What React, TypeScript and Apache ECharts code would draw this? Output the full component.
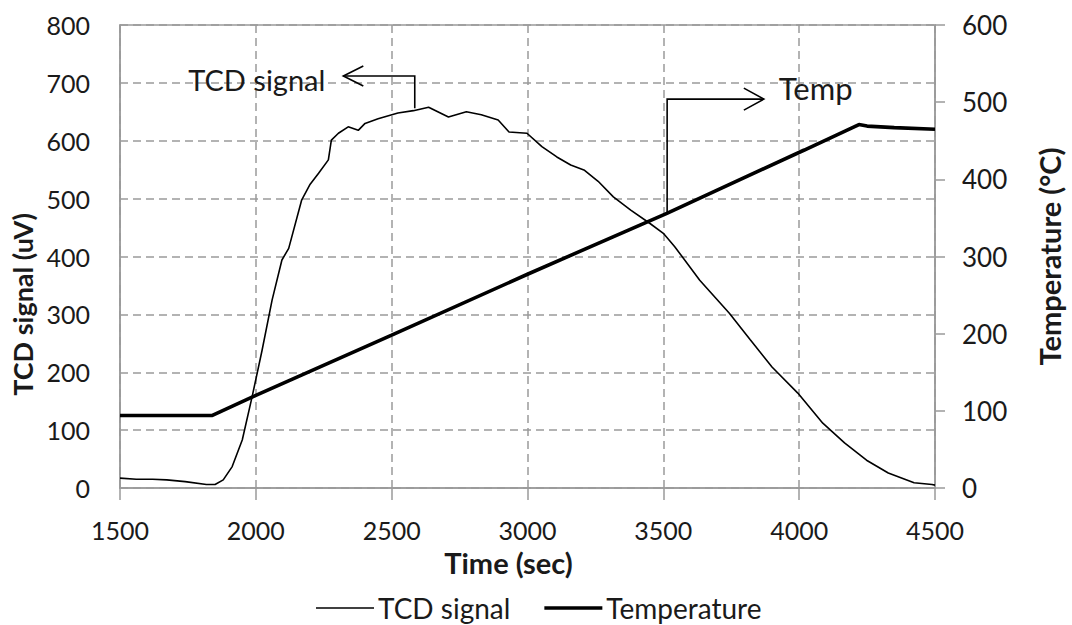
import React, { useEffect, useRef } from "react";
import * as echarts from "echarts";

// TCD signal (uV) vs time (sec)
const tcdTime = [1500, 1560, 1620, 1672, 1740, 1818, 1850, 1880, 1913, 1950, 1986, 2023, 2060, 2096, 2121, 2169, 2200, 2231, 2267, 2278, 2304, 2340, 2377, 2402, 2450, 2523, 2580, 2636, 2709, 2775, 2830, 2892, 2932, 2998, 3053, 3108, 3159, 3210, 3260, 3316, 3380, 3451, 3500, 3542, 3634, 3743, 3820, 3900, 3995, 4087, 4167, 4248, 4328, 4423, 4489, 4500];
const tcdSignal = [17, 15, 15, 14, 11, 6, 6, 14, 37, 83, 157, 238, 325, 394, 414, 498, 525, 544, 567, 601, 613, 624, 618, 630, 638, 648, 652, 658, 641, 650, 645, 636, 615, 613, 590, 572, 558, 549, 530, 503, 480, 457, 440, 417, 359, 302, 256, 209, 164, 112, 78, 48, 26, 9, 6, 5];

// Temperature (°C) vs time (sec)
const tempTime = [1500, 1840, 2000, 2500, 3000, 3513, 4019, 4220, 4250, 4350, 4500];
const tempValue = [94, 94, 120, 198, 277, 356, 438, 471, 469, 467, 465];

// Axis ticks
const xTicks = { min: 1500, max: 4500, interval: 500 };
const leftTicks = { min: 0, max: 800, interval: 100 };
const rightTicks = { min: 0, max: 600, interval: 100 };

// Annotation callouts (in data coordinates)
const tcdCallout = [[2585, 656], [2585, 712], [2322, 712]]; // left axis
const tcdCalloutText = [2256, 706];
const tempCallout = [[3514, 356], [3514, 504], [3870, 504]]; // right axis
const tempCalloutText = [3925, 518];

const FONT = "Lato";
const TXT = "#1a1a1a";
const GRIDC = "#9a9a9a";

export default function App() {
  const ref = useRef<HTMLDivElement>(null);
  useEffect(() => {
    if (!ref.current) return;
    const chart = echarts.init(ref.current, null, { renderer: "svg" });
    const tcdData = tcdTime.map((t, i) => [t, tcdSignal[i]]);
    const tempData = tempTime.map((t, i) => [t, tempValue[i]]);
    const titleStyle = { fontFamily: FONT, fontSize: 29, fontWeight: "bold", color: TXT };
    const option: any = {
      animation: false,
      backgroundColor: "#ffffff",
      grid: {
        left: 120,
        top: 25,
        width: 821,
        height: 463,
        show: true,
        borderColor: GRIDC,
        borderWidth: 1.5,
      },
      legend: {
        left: 311,
        top: 589,
        itemWidth: 58,
        itemHeight: 12,
        itemGap: 34,
        textStyle: { fontFamily: FONT, fontSize: 28, lineHeight: 28, color: TXT, padding: [0, 0, 0, -1] },
        data: [
          { name: "TCD signal", icon: "path://M0 0H58V1.6H0Z" },
          { name: "Temperature", icon: "path://M0 0H58V3.6H0Z" },
        ],
      },
      xAxis: {
        type: "value",
        min: xTicks.min,
        max: xTicks.max,
        interval: xTicks.interval,
        name: "Time (sec)",
        nameLocation: "middle",
        nameGap: 60,
        nameTextStyle: { ...titleStyle, padding: [0, 38, 0, 0] },
        axisLine: { lineStyle: { color: GRIDC, width: 1.5 } },
        axisTick: { show: true, length: 12, lineStyle: { color: GRIDC, width: 1.5 } },
        axisLabel: {
          fontFamily: FONT,
          fontSize: 25,
          color: TXT,
          margin: 29,
          formatter: (v: number) => String(v),
        },
        splitLine: { show: true, lineStyle: { color: GRIDC, type: [8, 5], width: 1.5 } },
      },
      yAxis: [
        {
          type: "value",
          min: leftTicks.min,
          max: leftTicks.max,
          interval: leftTicks.interval,
          name: "TCD signal (uV)",
          nameLocation: "middle",
          nameGap: 84,
          nameTextStyle: { ...titleStyle, fontSize: 27, padding: [0, 96, 0, 0] },
          axisLine: { show: true, lineStyle: { color: GRIDC, width: 1.5 } },
          axisTick: { show: false },
          axisLabel: { fontFamily: FONT, fontSize: 25, color: TXT, margin: 30 },
          splitLine: { show: true, lineStyle: { color: GRIDC, type: [8, 5], width: 1.5 } },
        },
        {
          type: "value",
          position: "right",
          min: rightTicks.min,
          max: rightTicks.max,
          interval: rightTicks.interval,
          name: "Temperature (°C)",
          nameLocation: "middle",
          nameGap: 100,
          nameRotate: 90,
          nameTextStyle: titleStyle,
          axisLine: { show: true, lineStyle: { color: GRIDC, width: 1.5 } },
          axisTick: { show: true, length: 10, lineStyle: { color: GRIDC, width: 1.5 } },
          axisLabel: { fontFamily: FONT, fontSize: 26, color: TXT, margin: 27 },
          splitLine: { show: false },
        },
      ],
      series: [
        {
          name: "TCD signal",
          type: "line",
          yAxisIndex: 0,
          data: tcdData,
          symbol: "none",
          lineStyle: { color: "#000", width: 1.6 },
          itemStyle: { color: "#000" },
          z: 3,
        },
        {
          name: "Temperature",
          type: "line",
          yAxisIndex: 1,
          data: tempData,
          symbol: "none",
          lineStyle: { color: "#000", width: 3.6 },
          itemStyle: { color: "#000" },
          z: 4,
        },
      ],
    };
    chart.setOption(option);

    const px = (p: number[], yAxisIndex: number) =>
      chart.convertToPixel({ xAxisIndex: 0, yAxisIndex }, p) as number[];
    const tcdPts = tcdCallout.map((p) => px(p, 0));
    const tempPts = tempCallout.map((p) => px(p, 1));
    const tcdTip = tcdPts[tcdPts.length - 1];
    const tempTip = tempPts[tempPts.length - 1];
    const tcdTxt = px(tcdCalloutText, 0);
    const tempTxt = px(tempCalloutText, 1);
    const ls = { stroke: "#000", lineWidth: 1.6, fill: "none" };
    chart.setOption({
      graphic: [
        { type: "polyline", shape: { points: tcdPts }, style: ls, z: 10 },
        {
          type: "polyline",
          shape: { points: [[tcdTip[0] + 20, tcdTip[1] - 10], tcdTip, [tcdTip[0] + 20, tcdTip[1] + 10]] },
          style: ls,
          z: 10,
        },
        { type: "polyline", shape: { points: tempPts }, style: ls, z: 10 },
        {
          type: "polyline",
          shape: { points: [[tempTip[0] - 20, tempTip[1] - 11], tempTip, [tempTip[0] - 20, tempTip[1] + 11]] },
          style: ls,
          z: 10,
        },
        {
          type: "text",
          x: tcdTxt[0],
          y: tcdTxt[1],
          style: { text: "TCD signal", fontFamily: FONT, fontSize: 29, fill: TXT, align: "right", verticalAlign: "middle" },
          z: 10,
        },
        {
          type: "text",
          x: tempTxt[0],
          y: tempTxt[1],
          style: { text: "Temp", fontFamily: FONT, fontSize: 31, fill: TXT, align: "left", verticalAlign: "middle" },
          z: 10,
        },
      ],
    });
    return () => chart.dispose();
  }, []);
  return (
    <div
      ref={ref}
      style={{ position: "fixed", left: 0, top: 0, width: 1072, height: 625 }}
    />
  );
}
